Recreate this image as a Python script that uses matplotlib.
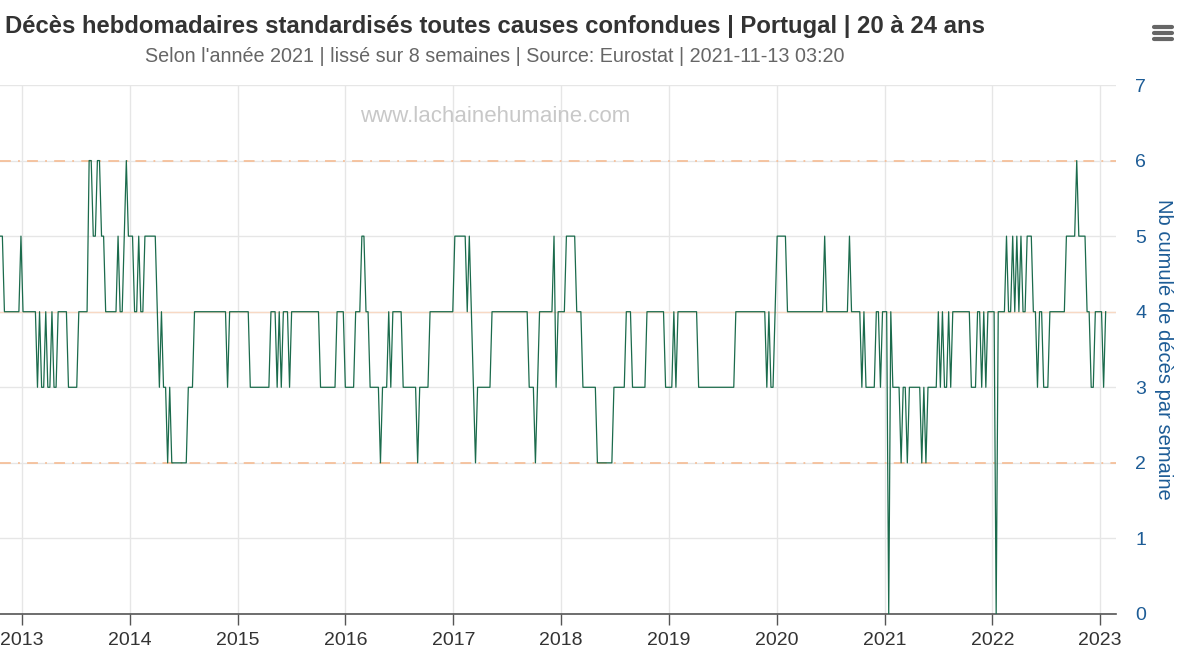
import numpy as np
import pandas as pd
import matplotlib
matplotlib.use("Agg")
import matplotlib.pyplot as plt
import matplotlib.dates as mdates
from matplotlib.lines import Line2D

plt.rcParams['font.family'] = ['Liberation Sans', 'DejaVu Sans']

# weekly values, as runs of (value, number of weeks)
runs = [
    (5, 2), (4, 8), (5, 1), (4, 7), (3, 1), (4, 1), (3, 2), (4, 1), (3, 2), (4, 1), (3, 2),
    (4, 5), (3, 5), (4, 5), (6, 2), (5, 2), (6, 2), (5, 2), (4, 6), (5, 1), (4, 2), (5, 1),
    (6, 1), (5, 3), (4, 2), (5, 1), (4, 2), (5, 6), (4, 1), (3, 1), (4, 1), (3, 2), (2, 1),
    (3, 1), (2, 8), (3, 3), (4, 16), (3, 1), (4, 10), (3, 10), (4, 3), (3, 1), (4, 1), (3, 1),
    (4, 3), (3, 1), (4, 14), (3, 8), (4, 4), (3, 5), (4, 3), (5, 2), (4, 2), (3, 5), (2, 1),
    (3, 3), (4, 1), (3, 1), (4, 5), (3, 7), (2, 1), (3, 5), (4, 12), (5, 6), (4, 1), (5, 1),
    (4, 1), (3, 1), (2, 1), (3, 7), (4, 18), (3, 3), (2, 1), (3, 1), (4, 7), (5, 1), (3, 1),
    (4, 4), (5, 5), (4, 3), (3, 7), (2, 8), (3, 6), (4, 3), (3, 7), (4, 9), (3, 4), (4, 1),
    (3, 1), (4, 10), (3, 18), (4, 15), (3, 1), (4, 1), (3, 2), (4, 1), (5, 5), (4, 18), (5, 1),
    (4, 11), (5, 1), (4, 5), (3, 1), (4, 1), (3, 5), (4, 2), (3, 1), (4, 3), (0, 1), (4, 1),
    (3, 4), (2, 1), (3, 2), (2, 1), (3, 6), (2, 1), (3, 1), (2, 1), (3, 5), (4, 1), (3, 1),
    (4, 1), (3, 2), (4, 1), (3, 1), (4, 9), (3, 3), (4, 2), (3, 1), (4, 1), (3, 1), (4, 4),
    (0, 1), (4, 4), (5, 1), (4, 2), (5, 1), (4, 1), (5, 1), (4, 1), (5, 1), (4, 2), (5, 3),
    (4, 2), (3, 1), (4, 2), (3, 3), (4, 8), (5, 5), (6, 1), (5, 4), (4, 2), (3, 2), (4, 4),
    (3, 1), (4, 1),
]
run_values = [v for v, n in runs]
run_weeks = [n for v, n in runs]
start_date = "2012-10-19"

deaths = np.repeat(run_values, run_weeks)
weeks = pd.date_range(start=start_date, periods=len(deaths), freq="7D")

mean_level = 4
band_levels = [2, 6]
years = list(range(2013, 2024))

title = "Décès hebdomadaires standardisés toutes causes confondues | Portugal | 20 à 24 ans"
subtitle = "Selon l'année 2021 | lissé sur 8 semaines | Source: Eurostat | 2021-11-13 03:20"
ylabel = "Nb cumulé de décès par semaine"
watermark = "www.lachainehumaine.com"

fig = plt.figure(figsize=(12, 6.66), dpi=100)
ax = fig.add_axes([0.0, 1 - 614 / 666, 1116 / 1200, (614 - 85) / 666])

for y in range(0, 8):
    ax.axhline(y, color="#e6e6e6", lw=1, zorder=0)
ax.axhline(mean_level, color="#f8d9c4", lw=1, zorder=1)
for b in band_levels:
    ax.axhline(b, color="#f5c09a", lw=1.3, ls=(0, (6, 4, 1, 4)), zorder=1)

ax.plot(weeks, deaths, color="#1b6b4c", lw=0.9, zorder=3)

ax.set_ylim(0, 7)
ax.set_xlim(pd.Timestamp("2012-10-18"), pd.Timestamp("2023-02-24"))
ax.set_xticks([pd.Timestamp(f"{y}-01-01") for y in years])
ax.xaxis.set_major_formatter(mdates.DateFormatter("%Y"))
ax.grid(axis="x", color="#e6e6e6", lw=1)
ax.set_axisbelow(True)

ax.yaxis.tick_right()
ax.set_yticks(range(0, 8))
ax.tick_params(axis="y", length=0, pad=14, labelsize=14, labelcolor="#1d5c96")
ax.tick_params(axis="x", length=8, width=1, color="#555555", labelsize=14, labelcolor="#333333", pad=5)
ax.yaxis.set_label_position("right")
ax.set_ylabel(ylabel, color="#1d5c96", fontsize=14.5, rotation=270, va="center")
ax.yaxis.set_label_coords(1163 / 1116, 0.5)

for s in ["top", "left", "right"]:
    ax.spines[s].set_visible(False)
ax.spines["bottom"].set_color("#555555")
ax.spines["bottom"].set_linewidth(1.2)

fig.text(495 / 1200, 1 - 26 / 666, title, ha="center", va="center", fontsize=17.2,
         fontweight="bold", color="#333333")
fig.text(495 / 1200, 1 - 57 / 666, subtitle, ha="center", va="center", fontsize=14.2,
         color="#666666")
ax.text(495 / 1116, 0.94, watermark, transform=ax.transAxes, ha="center", va="center",
        fontsize=16, color="#c8c8c8")

# menu icon
for dy in (27, 33, 39):
    fig.add_artist(Line2D([1154 / 1200, 1172 / 1200], [1 - dy / 666] * 2, color="#666666",
                          lw=3, solid_capstyle="round"))

fig.savefig("out.png", dpi=100)
